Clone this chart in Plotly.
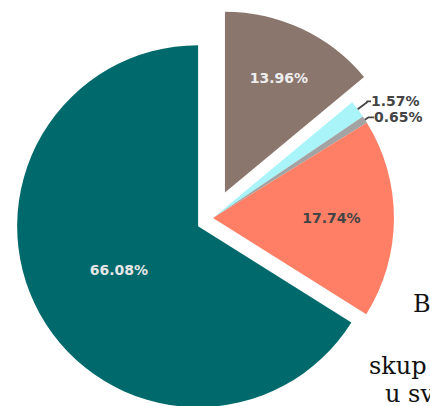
import plotly.graph_objects as go

labels = ["Brown", "Cyan", "Gray", "Salmon", "Teal"]
values = [13.96, 1.57, 0.65, 17.74, 66.08]
colors = ["#8B766D", "#A8F4F8", "#A3A3A3", "#FF7F66", "#00696B"]
pulls = [0.155, 0, 0, 0, 0.094]
text_colors = ["#EEEEEE", "#444444", "#444444", "#444444", "#E6E6E6"]
text_pos = ["inside", "outside", "outside", "inside", "inside"]

# background page text partly visible behind the chart
bg_words = ["B", "skup", "u sv"]
bg_x = [411, 367, 383]
bg_y = [304, 366, 394]

W, H = 430, 436

fig = go.Figure(go.Pie(
    labels=labels,
    values=values,
    sort=False,
    direction="clockwise",
    rotation=0,
    pull=pulls,
    marker=dict(colors=colors, line=dict(width=0)),
    texttemplate="%{value:.2f}%",
    textposition=text_pos,
    insidetextorientation="horizontal",
    insidetextfont=dict(family="DejaVu Sans", size=14, color=text_colors, weight="bold"),
    outsidetextfont=dict(family="DejaVu Sans", size=14, color="#444444", weight="bold"),
    domain=dict(x=[4 / W, 422 / W], y=[0, 1]),
    showlegend=False,
    hoverinfo="none",
))

for t, x, y in zip(bg_words, bg_x, bg_y):
    fig.add_annotation(text=t, x=x / W, y=1 - y / H, xref="paper", yref="paper",
                       xanchor="left", yanchor="middle", showarrow=False,
                       font=dict(family="DejaVu Serif", size=24, color="#111111"))

fig.update_layout(
    width=W, height=H,
    margin=dict(l=0, r=0, t=0, b=0, autoexpand=False),
    paper_bgcolor="white",
    plot_bgcolor="white",
)

fig.write_html("out.html", post_script="document.documentElement.style.overflow='hidden';document.body.style.overflow='hidden';document.body.style.margin='0';")
